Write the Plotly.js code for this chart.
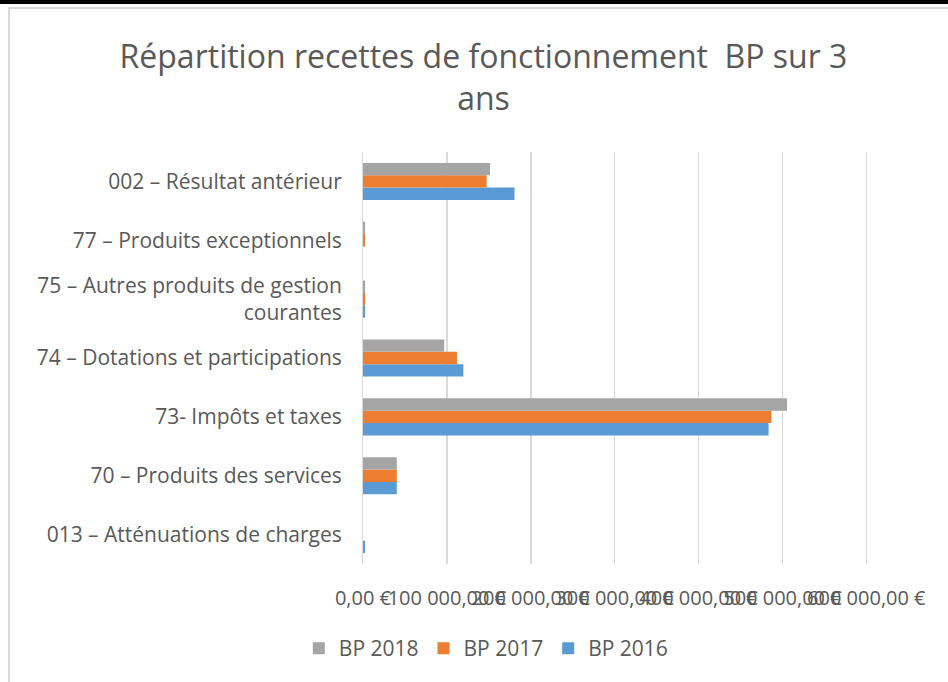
<!DOCTYPE html>
<html>
<head>
<meta charset="utf-8">
<script src="https://cdn.plot.ly/plotly-3.0.1.min.js"></script>
<style>
  html, body { margin: 0; padding: 0; width: 948px; height: 682px; overflow: hidden; background: #fff; }
  #chart { position: absolute; left: 0; top: 0; width: 948px; height: 682px; }
  #topbar { position: absolute; left: 0; top: 0; width: 948px; height: 4px; background: #000; pointer-events: none; }
  #frame { position: absolute; left: 8px; top: 7px; width: 1000px; height: 1000px; border-left: 2px solid #D9D9D9; border-top: 2px solid #D9D9D9; pointer-events: none; }
</style>
</head>
<body>
<div id="chart"></div>
<div id="topbar"></div>
<div id="frame"></div>
<script>
const categories = [
  '013 – Atténuations de charges',
  '70 – Produits des services',
  '73- Impôts et taxes',
  '74 – Dotations et participations',
  '75 – Autres produits de gestion<br>courantes',
  '77 – Produits exceptionnels',
  '002 – Résultat antérieur'
];
const bp2016 = [2500, 40300, 483500, 119600, 2500, 0, 180600];
const bp2017 = [0, 40300, 486900, 112000, 2500, 2500, 147400];
const bp2018 = [0, 40300, 505500, 96800, 2500, 2500, 151400];
const tickValues = [0, 100000, 200000, 300000, 400000, 500000, 600000];
const tickLabels = ['0,00 €', '100 000,00 €', '200 000,00 €', '300 000,00 €', '400 000,00 €', '500 000,00 €', '600 000,00 €'];

const FONT = 'Open Sans, Liberation Sans, sans-serif';
const GREY = '#595959';

const traces = [
  { type: 'bar', orientation: 'h', name: 'BP 2016', y: categories, x: bp2016, marker: { color: '#5B9BD5' } },
  { type: 'bar', orientation: 'h', name: 'BP 2017', y: categories, x: bp2017, marker: { color: '#ED7D31' } },
  { type: 'bar', orientation: 'h', name: 'BP 2018', y: categories, x: bp2018, marker: { color: '#A5A5A5' } }
];

const layout = {
  width: 948, height: 682,
  paper_bgcolor: '#fff', plot_bgcolor: '#fff',
  margin: { l: 363, r: 80, t: 152, b: 118 },
  font: { family: FONT, color: GREY, size: 20 },
  title: {
    text: 'Répartition recettes de fonctionnement  BP sur 3<br>ans',
    font: { family: FONT, size: 32, color: GREY },
    x: 0.51, xref: 'container', xanchor: 'center',
    y: 0.90, yref: 'container', yanchor: 'top'
  },
  barmode: 'group',
  bargap: 0.37,
  bargroupgap: 0,
  xaxis: {
    range: [0, 602000],
    tickmode: 'array', tickvals: tickValues, ticktext: tickLabels,
    tickangle: 0,
    showgrid: true, gridcolor: '#D9D9D9', gridwidth: 1.5,
    zeroline: false, showline: false, ticks: '',
    ticklabelstandoff: 20,
    tickfont: { family: FONT, size: 20, color: GREY },
    fixedrange: true
  },
  yaxis: {
    type: 'category',
    showgrid: false, zeroline: false, showline: true, linecolor: '#D9D9D9', linewidth: 1,
    ticks: '', ticklabelstandoff: 16,
    tickfont: { family: FONT, size: 21, color: GREY },
    fixedrange: true
  },
  showlegend: true,
  legend: {
    orientation: 'h', traceorder: 'reversed',
    xref: 'container', x: 0.513, xanchor: 'center',
    yref: 'container', y: 0.049, yanchor: 'middle',
    font: { family: FONT, size: 21, color: GREY },
    itemwidth: 30
  }
};

Plotly.newPlot('chart', traces, layout, { displayModeBar: false, staticPlot: true });
</script>
</body>
</html>
